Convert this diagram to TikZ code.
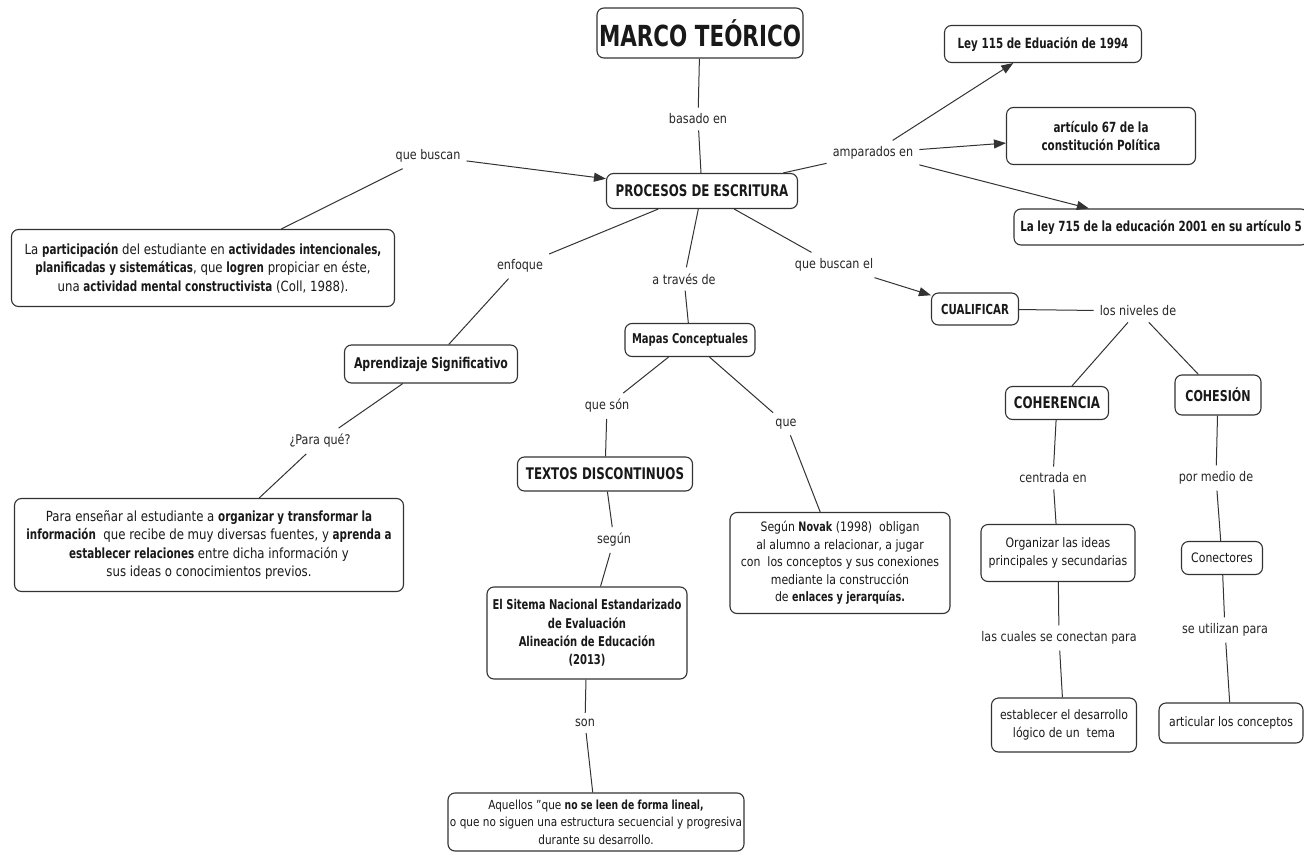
\documentclass[tikz,border=0pt]{standalone}
\usepackage{fontspec}
\setmainfont{DejaVu Sans}[UprightFeatures={FakeStretch=0.84},BoldFeatures={FakeStretch=0.74}]
\usetikzlibrary{arrows.meta}
\newcommand\bodyf{\fontsize{13}{18.3}\selectfont}
\newcommand\bigbodyf{\fontsize{14}{18.6}\selectfont}
\newcommand\titf[1]{\fontsize{#1}{18.3}\selectfont\bfseries}
\begin{document}
\begin{tikzpicture}[x=1pt,y=-1pt,
  box/.style={draw=black!80, line width=1.1pt, rounded corners=7pt, fill=white, align=center, inner sep=2pt, text=black!90},
  lbl/.style={inner sep=6pt, font=\fontsize{13.3}{16}\selectfont, text=black!85},
  conn/.style={draw=black!80, line width=1pt},
  arr/.style={conn, -{Triangle[length=12pt,width=9pt]}}]
\useasboundingbox (0,0) rectangle (1304,864);
\fill[white] (0,0) rectangle (1304,864);

% boxes
\node[box, minimum width=206, minimum height=50, font=\fontsize{29}{34}\selectfont\bfseries] (mt) at (700,33) {MARCO TEÓRICO};
\node[box, minimum width=191, minimum height=35, font=\titf{16}] (pe) at (702,191) {PROCESOS DE ESCRITURA};
\node[box, minimum width=383, minimum height=77, font=\bigbodyf] (lb) at (203,268) {La \textbf{participación} del estudiante en \textbf{actividades intencionales,}\\ \textbf{planificadas y sistemáticas}, que \textbf{logren} propiciar en éste,\\ una \textbf{actividad mental constructivista} (Coll, 1988).};
\node[box, minimum width=197, minimum height=37, font=\titf{14}] (ley115) at (1043,44) {Ley 115 de Eduación de 1994};
\node[box, minimum width=189, minimum height=57, font=\titf{14}] (art67) at (1101,136) {artículo 67 de la\\constitución Política};
\node[box, minimum width=294, minimum height=36, font=\titf{14}] (ley715) at (1161,227) {La ley 715 de la educación 2001 en su artículo 5};
\node[box, minimum width=173, minimum height=38, font=\titf{14.8}] (apr) at (431,364) {Aprendizaje Significativo};
\node[box, minimum width=130, minimum height=33, font=\titf{13.5}] (mapas) at (690,340) {Mapas Conceptuales};
\node[box, minimum width=175, minimum height=34, font=\titf{16}] (textos) at (605,474) {TEXTOS DISCONTINUOS};
\node[box, minimum width=87, minimum height=32, font=\titf{13.8}] (cual) at (975,309) {CUALIFICAR};
\node[box, minimum width=103, minimum height=33, font=\titf{16}] (coher) at (1057,403) {COHERENCIA};
\node[box, minimum width=86, minimum height=40, font=\titf{15}] (cohes) at (1218,395) {COHESIÓN};
\node[box, minimum width=389, minimum height=93, font=\bigbodyf] (pbox) at (209,545) {Para enseñar al estudiante a \textbf{organizar y transformar la}\\ \textbf{información}~ que recibe de muy diversas fuentes, y \textbf{aprenda a}\\ \textbf{establecer relaciones} entre dicha información y\\ sus ideas o conocimientos previos.};
\node[box, minimum width=200, minimum height=92, font=\titf{13.5}] (sitema) at (587,633) {El Sitema Nacional Estandarizado\\de Evaluación\\Alineación de Educación\\(2013)};
\node[box, minimum width=289, minimum height=58, font=\fontsize{12.5}{17.5}\selectfont] (aquellos) at (596,822) {Aquellos "que \textbf{no se leen de forma lineal,}\\o que no siguen una estructura secuencial y progresiva\\durante su desarrollo.};
\node[box, minimum width=220, minimum height=101, font=\fontsize{13}{17.5}\selectfont] (sbox) at (840,563) {Según \textbf{Novak} (1998)~ obligan\\al alumno a relacionar, a jugar\\con~ los conceptos y sus conexiones\\mediante la construcción\\de \textbf{enlaces y jerarquías.}};
\node[box, minimum width=154, minimum height=57, font=\bodyf] (organ) at (1058,553) {Organizar las ideas\\principales y secundarias};
\node[box, minimum width=145, minimum height=54, font=\bodyf] (estab) at (1064,725) {establecer el desarrollo\\lógico de un~ tema};
\node[box, minimum width=81, minimum height=33, font=\bodyf] (conect) at (1222,558) {Conectores};
\node[box, minimum width=144, minimum height=40, font=\bodyf] (artic) at (1231,723) {articular los conceptos};

% labels
\node[lbl] (basado) at (698,119) {basado en};
\node[lbl] (quebuscan) at (428,156) {que buscan};
\node[lbl] (amparados) at (873,153) {amparados en};
\node[lbl] (enfoque) at (520,266) {enfoque};
\node[lbl] (atraves) at (684,279) {a través de};
\node[lbl] (qbel) at (834,265) {que buscan el};
\node[lbl] (niveles) at (1138,311) {los niveles de};
\node[lbl] (centrada) at (1053,478) {centrada en};
\node[lbl] (lascuales) at (1059,638) {las cuales se conectan para};
\node[lbl] (pormedio) at (1216,478) {por medio de};
\node[lbl] (seutil) at (1225,630) {se utilizan para};
\node[lbl] (paraque) at (320,441) {¿Para qué?};
\node[lbl] (queson) at (607,406) {que són};
\node[lbl] (segun) at (614,540) {según};
\node[lbl] (son) at (585,723) {son};
\node[lbl] (que) at (786,424) {que};

% connectors
\draw[conn] (mt) -- (basado) -- (pe);
\draw[conn] (lb) -- (quebuscan);
\draw[arr] (quebuscan) -- (pe);
\draw[conn] (pe) -- (amparados);
\draw[arr] (amparados) -- (ley115);
\draw[arr] (amparados) -- (art67);
\draw[arr] (amparados) -- (ley715);
\draw[conn] (pe) -- (enfoque) -- (apr);
\draw[conn] (pe) -- (atraves) -- (mapas);
\draw[conn] (pe) -- (qbel);
\draw[arr] (qbel) -- (cual);
\draw[conn] (cual) -- (niveles);
\draw[conn] (niveles) -- (coher);
\draw[conn] (niveles) -- (cohes);
\draw[conn] (coher) -- (centrada) -- (organ) -- (lascuales) -- (estab);
\draw[conn] (cohes) -- (pormedio) -- (conect) -- (seutil) -- (artic);
\draw[conn] (apr) -- (paraque) -- (pbox);
\draw[conn] (mapas) -- (queson) -- (textos) -- (segun) -- (sitema) -- (son) -- (aquellos);
\draw[conn] (mapas) -- (que) -- (sbox);
\end{tikzpicture}
\end{document}
